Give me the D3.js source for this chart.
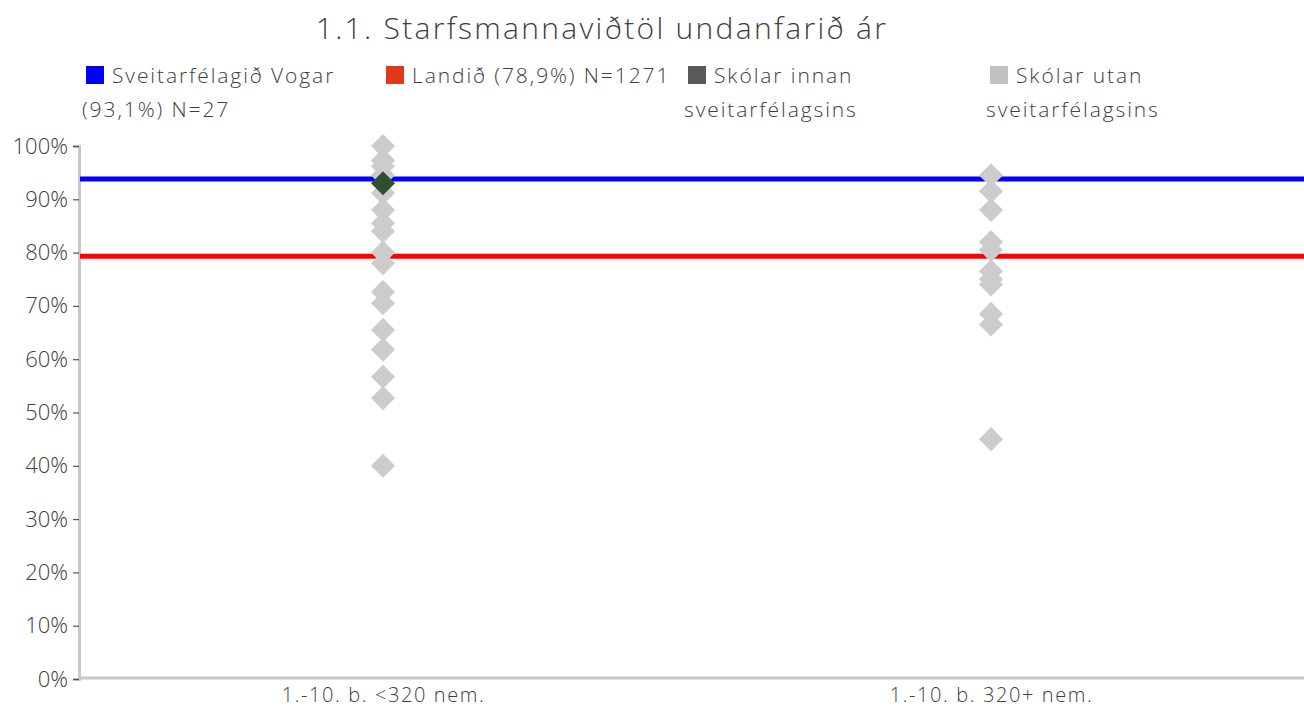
<!DOCTYPE html>
<html>
<head>
<meta charset="utf-8">
<script src="https://cdn.jsdelivr.net/npm/d3@7"></script>
<style>
  body { margin: 0; background: #fff; }
  text { font-family: "Open Sans", Lato, sans-serif; fill: #404040; font-weight: 300; }
</style>
</head>
<body>
<div id="plot"></div>
<script>
// data
var categories = ["1.-10. b. <320 nem.", "1.-10. b. 320+ nem."];
var yTicks = [0, 0.1, 0.2, 0.3, 0.4, 0.5, 0.6, 0.7, 0.8, 0.9, 1.0];
var vogarLine = 0.938;   // Sveitarfélagið Vogar
var landidLine = 0.793;  // Landið
var innanSchools = [{cat: categories[0], v: 0.93}];
var utanSmall = [1.0, 0.973, 0.962, 0.945, 0.912, 0.88, 0.855, 0.84, 0.80, 0.78,
                 0.726, 0.705, 0.655, 0.618, 0.567, 0.527, 0.40];
var utanLarge = [0.945, 0.915, 0.88, 0.82, 0.805, 0.765, 0.75, 0.74, 0.685, 0.665, 0.45];
var legendItems = [
  {lines: ["Sveitarfélagið Vogar", "(93,1%) N=27"], color: "#0000ff", x: 86},
  {lines: ["Landið (78,9%) N=1271"], color: "#e0391a", x: 386},
  {lines: ["Skólar innan", "sveitarfélagsins"], color: "#595959", x: 688},
  {lines: ["Skólar utan", "sveitarfélagsins"], color: "#c0c0c0", x: 990}
];

var W = 1304, H = 709;
var margin = {top: 146, right: 9, bottom: 30, left: 79},
    width = W - margin.left - margin.right,
    height = H - margin.top - margin.bottom;

var root = d3.select("#plot").append("svg")
  .attr("width", W).attr("height", H);

// title
root.append("text")
  .attr("x", 602).attr("y", 39)
  .attr("text-anchor", "middle")
  .style("font-size", "30px")
  .style("letter-spacing", "2.3px")
  .text("1.1. Starfsmannaviðtöl undanfarið ár");

// legend
var leg = root.selectAll("g.leg").data(legendItems).enter().append("g")
  .attr("class", "leg");
leg.append("rect")
  .attr("x", function(d) { return d.x; })
  .attr("y", 66).attr("width", 18).attr("height", 18)
  .attr("fill", function(d) { return d.color; });
leg.each(function(d) {
  var g = d3.select(this);
  d.lines.forEach(function(l, i) {
    g.append("text")
      .attr("x", i == 0 ? d.x + 26 : d.x - 4)
      .attr("y", 83 + i * 34)
      .style("font-size", "21px")
      .style("letter-spacing", "1.9px")
      .text(l);
  });
});

var svg = root.append("g")
  .attr("transform", "translate(" + margin.left + "," + margin.top + ")");

var x = d3.scalePoint().domain(categories).range([0, width]).padding(0.5);
var y = d3.scaleLinear().domain([0, 1]).range([height, 0]);

// Y axis
var yAxis = svg.append("g")
  .call(d3.axisLeft(y).tickValues(yTicks).tickFormat(d3.format(".0%")).tickSize(6).tickPadding(5));
yAxis.select(".domain").attr("stroke", "#c8c8c8").attr("stroke-width", 3);
yAxis.selectAll(".tick line").attr("stroke", "#555").attr("stroke-width", 1.2);
yAxis.selectAll(".tick text").style("font-size", "22px").attr("fill", "#404040");

// X axis
var xAxis = svg.append("g")
  .attr("transform", "translate(0," + (height - 1) + ")")
  .call(d3.axisBottom(x).tickSize(0).tickPadding(10));
xAxis.select(".domain").attr("stroke", "#c8c8c8").attr("stroke-width", 3)
  .attr("d", "M0,0H" + (width + 9));
xAxis.selectAll(".tick text").style("font-size", "20px").style("letter-spacing", "1.6px").attr("fill", "#404040");

// reference lines
svg.append("line")
  .attr("x1", 1).attr("x2", width + 9)
  .attr("y1", y(vogarLine)).attr("y2", y(vogarLine))
  .attr("stroke", "#0000ff").attr("stroke-width", 5);
svg.append("line")
  .attr("x1", 1).attr("x2", width + 9)
  .attr("y1", y(landidLine)).attr("y2", y(landidLine))
  .attr("stroke", "#ff0000").attr("stroke-width", 5);

// schools
var utan = utanSmall.map(function(v) { return {cat: categories[0], v: v}; })
  .concat(utanLarge.map(function(v) { return {cat: categories[1], v: v}; }));
var diamond = d3.symbol().type(d3.symbolSquare).size(290);

svg.selectAll("path.utan").data(utan).enter().append("path")
  .attr("class", "utan")
  .attr("d", diamond)
  .attr("transform", function(d) { return "translate(" + x(d.cat) + "," + y(d.v) + ") rotate(45)"; })
  .attr("fill", "#cccccc");

svg.selectAll("path.innan").data(innanSchools).enter().append("path")
  .attr("class", "innan")
  .attr("d", diamond)
  .attr("transform", function(d) { return "translate(" + x(d.cat) + "," + y(d.v) + ") rotate(45)"; })
  .attr("fill", "#2f4f2f");
</script>
</body>
</html>
